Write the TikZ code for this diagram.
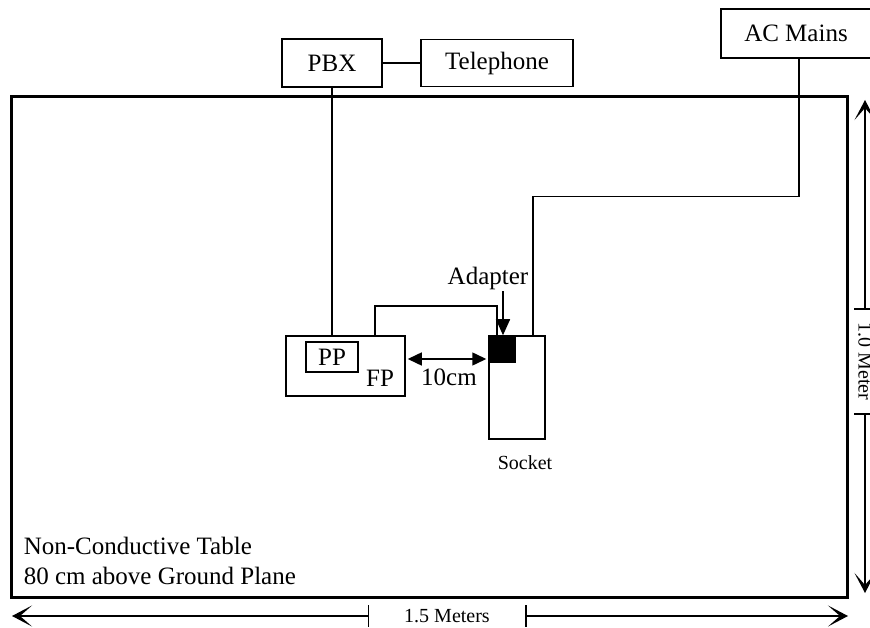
\documentclass[tikz,border=0pt]{standalone}
\usepackage{fontspec}
\setmainfont{Liberation Serif}
\usepackage{tikz}
\usetikzlibrary{arrows.meta,calc,positioning}
\newcommand{\bigtxt}{\fontsize{25}{30}\selectfont}
\newcommand{\smalltxt}{\fontsize{20}{24}\selectfont}

\begin{document}
\begin{tikzpicture}[x=1pt, y=-1pt, line width=1.5pt,
    box/.style={draw, rectangle, inner sep=0pt, font=\bigtxt},
    dimarrow/.style={-{Stealth[length=20pt, width=21pt, inset=12pt]}},
    fillarrow/.style={-{Triangle[length=16pt, width=14pt]}}]
    \useasboundingbox (0,0) rectangle (870,628);

    % Table
    \node[draw, rectangle, line width=3pt, minimum width=836pt, minimum height=500pt] (table) at (429,347) {};
    \node[anchor=north west, inner sep=0pt, align=left, font=\bigtxt] (tabletxt) at (23,536)
        {Non-Conductive Table\\80 cm above Ground Plane};

    % Boxes outside the table
    \node[box, minimum width=100pt, minimum height=48pt] (pbx) at (332,63) {PBX};
    \node[box, minimum width=152pt, minimum height=47pt] (phone) at (497,63) {Telephone};
    \node[box, minimum width=150pt, minimum height=49pt] (mains) at (796,33.5) {AC Mains};

    % Equipment on the table
    \node[box, minimum width=119pt, minimum height=60pt] (fp) at (345.5,366) {};
    \node[box, minimum width=52pt, minimum height=30pt] (pp) at (332,357) {PP};
    \node[font=\bigtxt, inner sep=0pt] (fptxt) at (380,378) {FP};
    \node[box, minimum width=56pt, minimum height=103pt] (socket) at (517,387.5) {};
    \node[draw, fill=black, minimum size=26pt, inner sep=0pt] (adapter) at (502,349) {};
    \node[font=\smalltxt, inner sep=0pt] (sockettxt) at (525,463) {Socket};
    \node[font=\bigtxt, inner sep=0pt, anchor=base] (adtxt) at (488,285) {Adapter};

    % Cables
    \draw (pbx.east) -- (phone.west);
    \draw (pbx.south) -- (pbx.south |- fp.north);
    \draw ([xshift=-31pt]fp.north east) -- ++(0,-29) -| ([xshift=-5pt]adapter.north);
    \draw ([xshift=3pt]mains.south) -- ++(0,138) -| ([xshift=16pt]socket.north);

    % Distance and adapter arrows
    \draw[{Triangle[length=14pt, width=13pt]}-{Triangle[length=14pt, width=13pt]},
        shorten <=2pt, shorten >=2pt]
        ([yshift=7pt]fp.east) -- ([yshift=7pt]fp.east -| adapter.west);
    \node[font=\bigtxt, inner sep=0pt] (dist) at (449,377) {10cm};
    \draw[fillarrow] ([xshift=15pt]adtxt.south) -- ([xshift=15pt]adtxt.south |- adapter.north);

    % Dimensions
    \node[font=\smalltxt, minimum width=156pt, minimum height=20pt, inner sep=0pt] (wlabel) at (447,616) {1.5 Meters};
    \coordinate (wleft) at (12,616);
    \coordinate (wright) at (848,616);
    \draw (wlabel.north west) -- (wlabel.south west);
    \draw (wlabel.north east) -- (wlabel.south east);
    \draw[dimarrow] (wlabel.west) -- (wleft);
    \draw[dimarrow] (wlabel.east) -- (wright);

    \node[font=\smalltxt, rotate=-90, minimum width=103pt, minimum height=20pt, inner sep=0pt] (hlabel) at (865,361.5) {1.0 Meter};
    \coordinate (htop) at (865,100);
    \coordinate (hbot) at (865,593);
    \draw (hlabel.north west) -- (hlabel.south west);
    \draw (hlabel.north east) -- (hlabel.south east);
    \draw[dimarrow] (hlabel.west) -- (htop);
    \draw[dimarrow] (hlabel.east) -- (hbot);
\end{tikzpicture}
\end{document}
